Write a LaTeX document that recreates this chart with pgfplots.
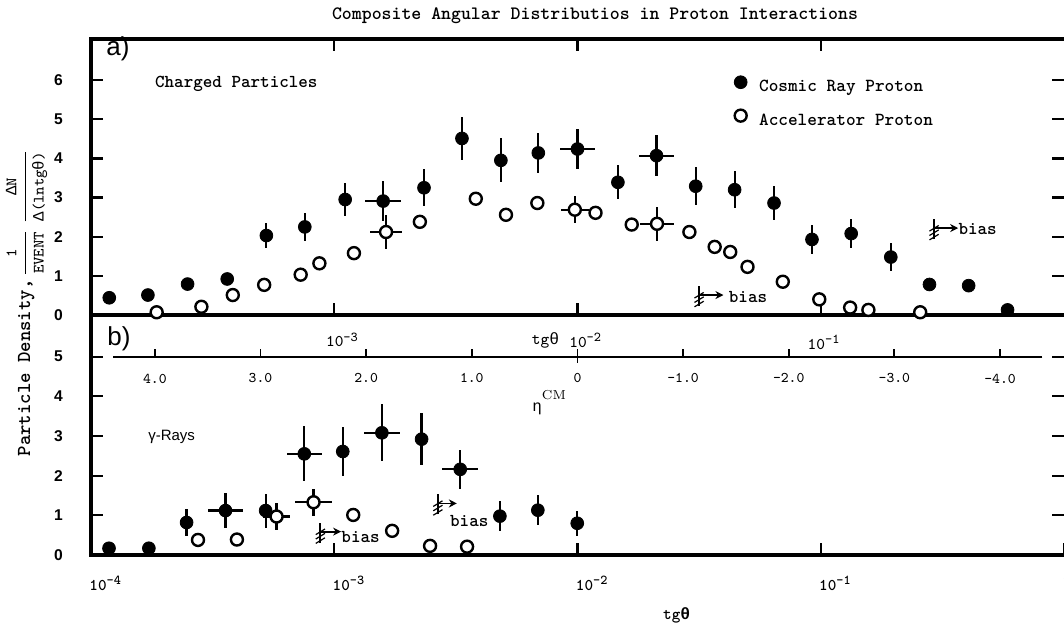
\documentclass[border=0pt]{standalone}
\usepackage{pgfplots}
\pgfplotsset{compat=1.18}
\usepackage{pgfplotstable}
\usepackage{fontspec}
\setsansfont{Liberation Sans}
\newfontfamily\grk{Liberation Mono}
\usetikzlibrary{arrows.meta}

% font helpers
\newcommand{\ttf}[1]{\ttfamily\fontsize{#1}{#1}\selectfont}
\newcommand{\sff}[1]{\sffamily\fontsize{#1}{#1}\selectfont}
% "10" with a raised exponent, in the current font
\newcommand{\tn}[1]{10\raisebox{0.8ex}{\fontsize{6.8}{6.8}\selectfont #1}}
% lower-limit marker (barbed stroke) with an arrow to the right
\newcommand{\biasmark}[2]{%
  \draw[line width=0.9pt] (#1) ++(0pt,-5.5pt) -- ++(0pt,10pt);
  \draw[line width=0.6pt] (#1) ++(-2.3pt,-5.9pt) -- ++(4.6pt,2.8pt);
  \draw[line width=0.6pt] (#1) ++(-2.3pt,-3.7pt) -- ++(4.6pt,2.8pt);
  \draw[line width=0.6pt] (#1) ++(-2.3pt,-1.5pt) -- ++(4.6pt,2.8pt);
  \draw[line width=0.9pt, -{Stealth[length=4pt,width=4pt]}] (#1) -- (#2);
}

% charged particles, cosmic ray protons: x = tg theta, y = density
\pgfplotstableread{
x y ey exp exm
1.189e-4 0.44 0 0 0
1.714e-4 0.51 0 0 0
2.495e-4 0.79 0 0 0
3.631e-4 0.92 0 0 0
5.260e-4 2.03 0.32 0 0
7.568e-4 2.25 0.36 0 0
1.109e-3 2.95 0.41 0 0
1.589e-3 2.91 0.51 2.995e-4 2.520e-4
2.339e-3 3.25 0.47 0 0
3.350e-3 4.51 0.55 0 0
4.842e-3 3.95 0.56 0 0
6.902e-3 4.14 0.52 0 0
1.000e-2 4.24 0.52 1.749e-3 1.489e-3
1.466e-2 3.39 0.43 0 0
2.113e-2 4.07 0.53 3.696e-3 3.146e-3
3.062e-2 3.29 0.48 0 0
4.426e-2 3.20 0.47 0 0
6.427e-2 2.86 0.44 0 0
9.204e-2 1.93 0.36 0 0
1.334e-1 2.08 0.38 0 0
1.941e-1 1.48 0.36 0 0
2.799e-1 0.78 0 0 0
4.055e-1 0.75 0 0 0
5.861e-1 0.13 0 0 0
}\cosmicA

% charged particles, accelerator protons
\pgfplotstableread{
x y ey exp exm
1.862e-4 0.07 0 0 0
2.844e-4 0.21 0 0 0
3.828e-4 0.51 0 0 0
5.152e-4 0.77 0 0 0
7.278e-4 1.03 0 0 0
8.690e-4 1.32 0 0 0
1.205e-3 1.58 0 0 0
1.633e-3 2.12 0.43 2.636e-4 2.268e-4
2.249e-3 2.38 0 0 0
3.819e-3 2.97 0 0 0
5.082e-3 2.56 0 0 0
6.839e-3 2.86 0 0 0
9.750e-3 2.69 0.35 1.367e-3 1.199e-3
1.186e-2 2.61 0 0 0
1.671e-2 2.31 0 0 0
2.123e-2 2.33 0.44 3.770e-3 3.201e-3
2.884e-2 2.12 0 0 0
3.664e-2 1.74 0 0 0
4.246e-2 1.61 0 0 0
5.000e-2 1.23 0 0 0
6.982e-2 0.85 0 0 0
9.863e-2 0.40 0 0 0
1.321e-1 0.19 0 0 0
1.570e-1 0.13 0 0 0
2.564e-1 0.07 0 0 0
}\accA

% gamma rays, cosmic ray protons
\pgfplotstableread{
x y ey exp exm
1.186e-4 0.17 0 0 0
1.730e-4 0.17 0 0 0
2.472e-4 0.82 0.34 0 0
3.573e-4 1.12 0.44 6.249e-5 5.320e-5
5.224e-4 1.12 0.43 0 0
7.534e-4 2.55 0.69 1.358e-4 1.151e-4
1.084e-3 2.61 0.61 0 0
1.570e-3 3.08 0.72 2.873e-4 2.430e-4
2.286e-3 2.92 0.66 0 0
3.296e-3 2.16 0.49 6.124e-4 5.165e-4
4.797e-3 0.98 0.37 0 0
6.871e-3 1.13 0.38 0 0
9.977e-3 0.80 0.32 0 0
}\cosmicB

% gamma rays, accelerator protons
\pgfplotstableread{
x y ey exp exm
2.754e-4 0.38 0 0 0
3.981e-4 0.39 0 0 0
5.794e-4 0.97 0.34 7.822e-5 6.889e-5
8.222e-4 1.33 0.34 1.550e-4 1.304e-4
1.197e-3 1.01 0 0 0
1.730e-3 0.61 0 0 0
2.477e-3 0.23 0 0 0
3.516e-3 0.21 0 0 0
}\accB

\begin{document}
\begin{tikzpicture}

% ---------------- a) charged particles ----------------
\begin{axis}[
  scale only axis, clip=false,
  xmode=log, xmin=1e-4, xmax=1,
  width=486.5pt, height=138pt, anchor=south west,
  at={(45.5pt,153.5pt)},
  ymin=0, ymax=7.05,
  axis line style={draw=none},
  tick align=inside, major tick length=6pt,
  tick style={line width=1.1pt, black},
  minor x tick style={draw=none},
  xtick={1e-3,1e-2,1e-1}, xticklabels={},
  ytick={0,1,2,3,4,5,6}, yticklabels={0,1,2,3,4,5,6},
  yticklabel style={font=\sff{7.8}\bfseries, xshift=-10.5pt},
  legend style={draw=none, fill=none, at={(axis cs:0.04395,6.12)},
    anchor=north west, inner sep=0pt, row sep=7.5pt, column sep=6pt,
    font=\ttf{9.2}\bfseries, nodes={inner sep=0pt}},
  legend cell align=left,
  legend image code/.code={\draw[#1] plot coordinates {(0pt,2.6pt)};},
]
\addlegendimage{only marks, mark=*, mark size=3.2pt, black}
\addlegendentry{Cosmic Ray Proton}
\addlegendimage{only marks, mark=*, mark size=3.0pt, black,
  mark options={fill=white, draw=black, line width=1.2pt}}
\addlegendentry{Accelerator Proton}

\addplot[forget plot, only marks, mark=*, mark size=3.2pt, black,
  error bars/.cd, y dir=both, y explicit, x dir=both, x explicit,
  error mark=none, error bar style={line width=1.1pt, black}]
  table[x=x, y=y, y error=ey, x error plus=exp, x error minus=exm] {\cosmicA};
\addplot[forget plot, only marks, mark=*, mark size=3.0pt, black,
  mark options={fill=white, draw=black, line width=1.2pt},
  error bars/.cd, y dir=both, y explicit, x dir=both, x explicit,
  error mark=none, error bar style={line width=1.1pt, black}]
  table[x=x, y=y, y error=ey, x error plus=exp, x error minus=exm] {\accA};

\draw[line width=1.7pt] (rel axis cs:0,0) -- (rel axis cs:0,1) -- (rel axis cs:1,1);
\draw[line width=1.7pt] (rel axis cs:0,0) -- (rel axis cs:1,0);

\node[font=\sff{13}] at (axis cs:1.291e-4,6.80) {a)};
\node[anchor=west, font=\ttf{9.1}\bfseries, inner sep=0pt] at (axis cs:1.828e-4,5.90) {Charged Particles};

\biasmark{axis cs:0.03162,0.51}{axis cs:0.03981,0.51}
\node[anchor=west, font=\ttf{9.1}\bfseries, inner sep=0pt] at (axis cs:0.04178,0.45) {bias};

\biasmark{axis cs:0.2924,2.22}{axis cs:0.3673,2.22}
\node[anchor=west, font=\ttf{9.1}\bfseries, inner sep=0pt] at (axis cs:0.3673,2.20) {bias};
\end{axis}

% ---------------- b) gamma rays ----------------
\begin{axis}[
  scale only axis, clip=false,
  xmode=log, xmin=1e-4, xmax=1,
  width=486.5pt, height=120pt, anchor=south west,
  at={(45.5pt,33.5pt)},
  ymin=0, ymax=6.05,
  axis line style={draw=none},
  tick align=inside, major tick length=6pt,
  tick style={line width=1.1pt, black},
  minor x tick style={draw=none},
  xtick={1e-4,1e-3,1e-2,1e-1,1},
  xticklabels={\tn{-4},\tn{-3},\tn{-2},\tn{-1},1},
  xtick pos=left,
  xticklabel style={font=\ttf{8.2}\bfseries, anchor=north west, xshift=-4.3pt, yshift=-7pt},
  ytick={0,1,2,3,4,5}, yticklabels={0,1,2,3,4,5},
  yticklabel style={font=\sff{7.8}\bfseries, xshift=-10.5pt},
  xlabel={tg{\grk θ}},
  xlabel style={at={(axis description cs:0.602,-0.25)}, anchor=center, font=\ttf{8.2}\bfseries},
]
\addplot[only marks, mark=*, mark size=3.2pt, black,
  error bars/.cd, y dir=both, y explicit, x dir=both, x explicit,
  error mark=none, error bar style={line width=1.1pt, black}]
  table[x=x, y=y, y error=ey, x error plus=exp, x error minus=exm] {\cosmicB};
\addplot[only marks, mark=*, mark size=3.0pt, black,
  mark options={fill=white, draw=black, line width=1.2pt},
  error bars/.cd, y dir=both, y explicit, x dir=both, x explicit,
  error mark=none, error bar style={line width=1.1pt, black}]
  table[x=x, y=y, y error=ey, x error plus=exp, x error minus=exm] {\accB};

\draw[line width=1.7pt] (rel axis cs:0,1) -- (rel axis cs:0,0) -- (rel axis cs:1,0);

\node[font=\sff{13}] at (axis cs:1.303e-4,5.45) {b)};
\node[anchor=west, font=\sff{7.5}, inner sep=0pt] at (axis cs:1.714e-4,2.97) {γ-Rays};

% tg theta scale written above the eta axis
\node[anchor=base west, font=\ttf{8.2}, inner sep=0pt, xshift=-4.3pt] at (axis cs:1e-3,5.25) {\tn{-3}};
\node[anchor=base west, font=\ttf{8.2}, inner sep=0pt] at (axis cs:6.47e-3,5.30) {tg{\grk θ}};
\node[anchor=base west, font=\ttf{8.2}, inner sep=0pt, xshift=-4.3pt] at (axis cs:1e-2,5.23) {\tn{-2}};
\node[anchor=base west, font=\ttf{8.2}, inner sep=0pt, xshift=-4.3pt] at (axis cs:0.0955,5.18) {\tn{-1}};
\node[anchor=base west, inner sep=0pt] at (axis cs:6.5e-3,3.63)
  {{\grk\fontsize{8}{8}\selectfont η}\raisebox{1.3ex}{\rmfamily\fontsize{6.5}{6.5}\selectfont CM}};

\biasmark{axis cs:8.77e-4,0.59}{axis cs:1.067e-3,0.59}
\node[anchor=west, font=\ttf{9.1}\bfseries, inner sep=0pt] at (axis cs:1.067e-3,0.46) {bias};

\biasmark{axis cs:2.667e-3,1.30}{axis cs:3.192e-3,1.30}
\node[anchor=west, font=\ttf{9.1}\bfseries, inner sep=0pt] at (axis cs:2.985e-3,0.86) {bias};
\end{axis}

% ---------------- eta (CM pseudorapidity) scale ----------------
\begin{axis}[
  at={(56.3pt,132.65pt)}, anchor=south west,
  scale only axis, clip=false,
  width=464.85pt, height=10pt,
  xmin=-4.4, xmax=4.4, x dir=reverse, ymin=0, ymax=1,
  axis x line*=bottom, axis y line=none,
  x axis line style={line width=0.9pt, -},
  xtick={-4,-3,-2,-1,0,1,2,3,4},
  xticklabels={-4.0,-3.0,-2.0,-1.0,0,1.0,2.0,3.0,4.0},
  xtick align=inside, major tick length=4pt,
  tick style={line width=0.9pt, black},
  xticklabel style={font=\ttf{7.4}, yshift=-5pt},
]
\draw[line width=0.9pt] (axis cs:0,0) -- ++(0pt,-3pt);
\end{axis}

% title and vertical label
\node[font=\ttf{9.45}\bfseries] at (297.5pt,303pt) {Composite Angular Distributios in Proton Interactions};
\node[rotate=90, anchor=base] at (15pt,159.5pt) {%
  {\ttf{9.9}\bfseries Particle Density,}\,%
  $\displaystyle\frac{\mbox{\ttf{7.9}1}}{\mbox{\ttf{7.9}EVENT}}\;
   \frac{\mbox{\ttf{7.9}{\grk Δ}N}}{\mbox{\ttf{7.9}{\grk Δ}(lntg{\grk θ})}}$};

\pgfresetboundingbox
\useasboundingbox (0pt,0pt) rectangle (532pt,311pt);
\end{tikzpicture}
\end{document}
